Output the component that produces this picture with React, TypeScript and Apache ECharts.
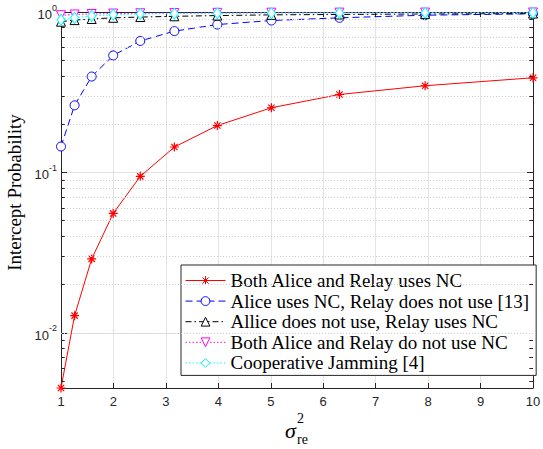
import React, { useEffect, useRef } from "react";
import * as echarts from "echarts";

const xValues = [1, 1.259, 1.585, 1.995, 2.512, 3.162, 3.981, 5.012, 6.31, 7.943, 10];
const bothNC = [0.00453, 0.0128, 0.0289, 0.0555, 0.0945, 0.144, 0.196, 0.253, 0.306, 0.347, 0.389];
const aliceNC = [0.145, 0.262, 0.396, 0.536, 0.66, 0.76, 0.835, 0.885, 0.92, 0.955, 0.975];
const relayNC = [0.87, 0.89, 0.905, 0.92, 0.93, 0.94, 0.95, 0.96, 0.965, 0.972, 0.978];
const noNC = [0.955, 0.965, 0.972, 0.978, 0.982, 0.985, 0.988, 0.99, 0.991, 0.992, 0.993];
const coopJam = [0.895, 0.92, 0.945, 0.962, 0.972, 0.978, 0.982, 0.985, 0.987, 0.989, 0.99];

const seriesNames = [
  "Both Alice and Relay uses NC",
  "Alice uses NC, Relay does not use [13]",
  "Allice does not use, Relay uses NC",
  "Both Alice and Relay do not use NC",
  "Cooperative Jamming [4]",
];
const xTicks = [1, 2, 3, 4, 5, 6, 7, 8, 9, 10];
const yMin = 0.00453;
const yMax = 1;
const minorY = [0.005, 0.006, 0.007, 0.008, 0.009, 0.02, 0.03, 0.04, 0.05, 0.06, 0.07, 0.08, 0.09, 0.2, 0.3, 0.4, 0.5, 0.6, 0.7, 0.8, 0.9];

const AX = "#262626";
const SANS = "Liberation Sans, Arial, sans-serif";
const SERIF = "Liberation Serif, Times New Roman, serif";

export default function App() {
  const ref = useRef<HTMLDivElement>(null);
  useEffect(() => {
    if (!ref.current) return;
    const chart = echarts.init(ref.current, undefined, { renderer: "svg" });
    const pts = (ys: number[]) => xValues.map((x, i) => [x, ys[i]]);

    const minorLines: any[] = [];
    minorY.forEach((v) => {
      minorLines.push({ yAxis: v, lineStyle: { color: "#cfcfcf", type: [1, 2], width: 1 } });
      minorLines.push([
        { coord: [1, v], lineStyle: { color: AX, type: "solid", width: 1 } },
        { coord: [1.07, v] },
      ]);
      minorLines.push([
        { coord: [9.93, v], lineStyle: { color: AX, type: "solid", width: 1 } },
        { coord: [10, v] },
      ]);
    });

    const yLabel = (v: number) => {
      const l = Math.log10(v);
      const e = Math.round(l);
      if (Math.abs(l - e) > 1e-6) return "";
      return `{b|10}{s|${e}}`;
    };

    const mk = (color: string) => ({ color: "#ffffff", borderColor: color, borderWidth: 1 });

    chart.setOption({
      animation: false,
      backgroundColor: "#ffffff",
      grid: { left: 61, right: 10, top: 12, bottom: 61, containLabel: false, outerBoundsMode: "none" },
      xAxis: [
        {
          type: "value",
          min: 1,
          max: 10,
          interval: 1,
          axisLine: { show: true, lineStyle: { color: AX, width: 1 } },
          axisTick: { show: true, inside: true, length: 5, lineStyle: { color: AX } },
          axisLabel: {
            color: AX,
            fontFamily: SANS,
            fontSize: 13,
            margin: 7,
            formatter: (v: number) => (xTicks.includes(v) ? String(v) : ""),
          },
          splitLine: { show: true, lineStyle: { color: "#e3e3e3", width: 1 } },
        },
        {
          type: "value",
          position: "top",
          min: 1,
          max: 10,
          interval: 1,
          axisLine: { show: true, lineStyle: { color: AX, width: 1 } },
          axisTick: { show: true, inside: true, length: 5, lineStyle: { color: AX } },
          axisLabel: { show: false },
          splitLine: { show: false },
        },
      ],
      yAxis: [
        {
          type: "log",
          logBase: 10,
          min: yMin,
          max: yMax,
          name: "Intercept Probability",
          nameLocation: "middle",
          nameGap: 28,
          nameTextStyle: { color: "#000", fontFamily: SERIF, fontSize: 19, padding: [0, 0, 0, 15] },
          axisLine: { show: true, lineStyle: { color: AX, width: 1 } },
          axisTick: { show: true, inside: true, length: 6, lineStyle: { color: AX } },
          axisLabel: {
            margin: 4,
            formatter: yLabel,
            rich: {
              b: { color: AX, fontFamily: SANS, fontSize: 13, lineHeight: 18, verticalAlign: "bottom" },
              s: { color: AX, fontFamily: SANS, fontSize: 9, lineHeight: 18, verticalAlign: "top" },
            },
          },
          splitLine: { show: true, lineStyle: { color: "#e3e3e3", width: 1 } },
        },
        {
          type: "log",
          logBase: 10,
          position: "right",
          min: yMin,
          max: yMax,
          axisLine: { show: true, lineStyle: { color: AX, width: 1 } },
          axisTick: { show: true, inside: true, length: 6, lineStyle: { color: AX } },
          axisLabel: { show: false },
          splitLine: { show: false },
        },
      ],
      legend: {
        orient: "vertical",
        left: 181,
        top: 265,
        data: seriesNames,
        backgroundColor: "#ffffff",
        borderColor: AX,
        borderWidth: 1,
        borderRadius: 0,
        padding: [6, 7, 3, 4],
        itemWidth: 40,
        itemHeight: 11,
        itemGap: 1.6,
        lineStyle: { width: 1 },
        itemStyle: { borderWidth: 1 },
        textStyle: { color: "#000", fontFamily: SERIF, fontSize: 19 },
      },
      graphic: [
        {
          type: "group",
          left: 285,
          top: 411,
          children: [
            { type: "text", x: 0, y: 8, style: { text: "σ", font: `italic 22px ${SERIF}`, fill: "#000" } },
            { type: "text", x: 12, y: 0, style: { text: "2", font: `14px ${SERIF}`, fill: "#000" } },
            { type: "text", x: 12, y: 21, style: { text: "re", font: `14px ${SERIF}`, fill: "#000" } },
          ],
        },
      ],
      series: [
        {
          type: "line",
          name: "minor",
          data: [],
          z: 1,
          silent: true,
          markLine: { silent: true, symbol: "none", label: { show: false }, data: minorLines, animation: false },
        },
        {
          type: "line",
          name: seriesNames[0],
          data: pts(bothNC),
          symbol: "path://M5 0L5 10M0 5L10 5M1.5 1.5L8.5 8.5M8.5 1.5L1.5 8.5",
          symbolSize: 9,
          lineStyle: { color: "#ff0000", width: 1 },
          itemStyle: { color: "#ff0000", borderColor: "#ff0000", borderWidth: 1.2 },
          z: 3,
        },
        {
          type: "line",
          name: seriesNames[1],
          data: pts(aliceNC),
          symbol: "circle",
          symbolSize: 9,
          lineStyle: { color: "#0000ff", width: 1, type: [7, 4] },
          itemStyle: mk("#0000ff"),
          z: 4,
        },
        {
          type: "line",
          name: seriesNames[2],
          data: pts(relayNC),
          symbol: "triangle",
          symbolSize: 9,
          lineStyle: { color: "#000000", width: 1, type: [6, 3, 1.5, 3] },
          itemStyle: mk("#000000"),
          z: 5,
        },
        {
          type: "line",
          name: seriesNames[3],
          data: pts(noNC),
          symbol: "path://M0 0L10 0L5 9Z",
          symbolSize: 9,
          lineStyle: { color: "#ff00ff", width: 1, type: [1.5, 2] },
          itemStyle: mk("#ff00ff"),
          z: 6,
        },
        {
          type: "line",
          name: seriesNames[4],
          data: pts(coopJam),
          symbol: "diamond",
          symbolSize: [8, 11],
          lineStyle: { color: "#00ffff", width: 1, type: [1.5, 2] },
          itemStyle: mk("#00ffff"),
          z: 7,
        },
      ],
    });
    return () => chart.dispose();
  }, []);
  return <div ref={ref} style={{ width: 543, height: 449, position: "fixed", left: 0, top: 0 }} />;
}
